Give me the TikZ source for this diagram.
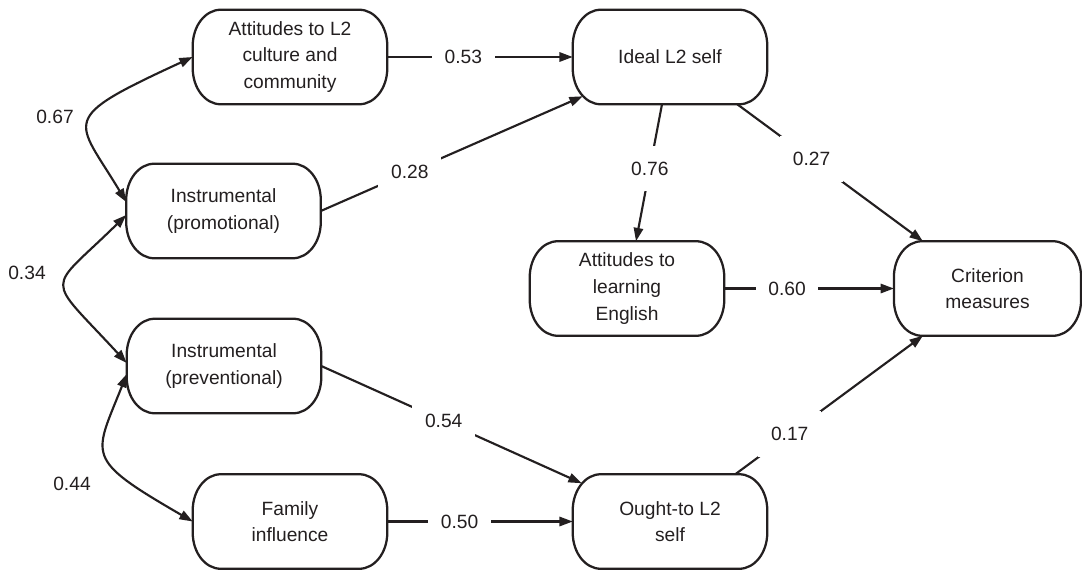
\documentclass[tikz,border=0pt]{standalone}
\usepackage{fontspec}
\setmainfont{Liberation Sans}
\usetikzlibrary{arrows.meta}
\definecolor{ink}{RGB}{35,31,32}
\begin{document}
\begin{tikzpicture}[x=0.75pt, y=-0.75pt,
  every node/.style={text=ink, font=\fontsize{14.4pt}{20pt}\selectfont},
  box/.style={minimum width=145.5pt, minimum height=70.5pt, inner sep=0pt, align=center},
  outline/.style={draw=ink, line width=1.7pt, line join=round},
  tip/.tip={Triangle[length=10pt, width=7pt]},
  conn/.style={draw=ink, line width=1.6pt, -tip},
  corr/.style={draw=ink, line width=1.6pt, tip-tip},
  coef/.style={fill=white, inner xsep=9.5pt, inner ysep=12pt},
]
\useasboundingbox (0,0) rectangle (1082,572);

% constructs
\node[box] (att)   at (290,57)    {Attitudes to L2\\culture and\\community};
\node[box] (ideal) at (670,57)    {Ideal L2 self};
\node[box] (prom)  at (223.5,211) {Instrumental\\(promotional)};
\node[box] (prev)  at (224,366)   {Instrumental\\(preventional)};
\node[box] (fam)   at (290,521.5) {Family\\influence};
\node[box] (ought) at (670,521.5) {Ought-to L2\\self};
\node[box] (learn) at (627,288.5) {Attitudes to\\learning\\English};
\node[box, minimum width=140pt] (crit) at (987.5,288.5) {Criterion\\measures};

% rounded outlines with elliptic ends
\def\rx{21pt}
\def\ry{27pt}
\foreach \n in {att,ideal,prom,prev,fam,ought,learn,crit}
  \draw[outline] ([xshift=\rx]\n.north west) -- ([xshift=-\rx]\n.north east)
    arc[start angle=90, end angle=0, x radius=\rx, y radius=\ry]
    -- ([yshift=\ry]\n.south east)
    arc[start angle=0, end angle=-90, x radius=\rx, y radius=\ry]
    -- ([xshift=\rx]\n.south west)
    arc[start angle=270, end angle=180, x radius=\rx, y radius=\ry]
    -- ([yshift=-\ry]\n.north west)
    arc[start angle=180, end angle=90, x radius=\rx, y radius=\ry]
    -- cycle;

% paths with coefficients
\draw[conn] (att.east) -- node[coef, pos=0.41] {0.53} (ideal.west);
\draw[conn] (prom.east) -- node[coef, pos=0.34] {0.28} ([shift={(10,-8)}]ideal.south west);
\draw[conn] ([shift={(-8,0)}]ideal.south) -- node[coef, pos=0.47] {0.76} ([shift={(9,0)}]learn.north);
\draw[conn] ([shift={(-30,0)}]ideal.south east) -- node[coef, pos=0.4] {0.27} ([shift={(29,0)}]crit.north west);
\draw[conn] (learn.east) -- node[coef, pos=0.37] {0.60} (crit.west);
\draw[conn] (prev.east) -- node[coef, pos=0.47] {0.54} ([shift={(9,9)}]ought.north west);
\draw[conn] (fam.east) -- node[coef, pos=0.39] {0.50} (ought.west);
\draw[conn] ([shift={(-32,0)}]ought.north east) -- node[coef, pos=0.29] {0.17} ([shift={(29,0)}]crit.south west);

% correlations
\draw[corr] (att.west) .. controls (56,120) and (76,118) .. ([shift={(0,-9)}]prom.west);
\draw[corr] ([shift={(0,4)}]prom.west) .. controls (46,294) and (44,273) .. ([shift={(0,-3)}]prev.west);
\draw[corr] ([shift={(0,8)}]prev.west) .. controls (94,457) and (83,458) .. (fam.west);

\node (r67) at (55,117) {0.67};
\node (r34) at (27,273) {0.34};
\node (r44) at (72,484) {0.44};
\end{tikzpicture}
\end{document}
